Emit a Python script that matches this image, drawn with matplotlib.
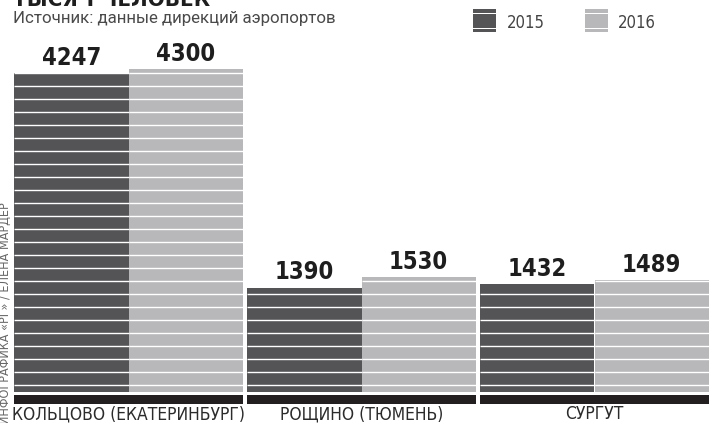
import matplotlib.pyplot as plt
from matplotlib.patches import Rectangle
import numpy as np

# passenger traffic, thousand people
airports = ["КОЛЬЦОВО (ЕКАТЕРИНБУРГ)", "РОЩИНО (ТЮМЕНЬ)", "СУРГУТ"]
years = ["2015", "2016"]
values_2015 = [4247, 1390, 1432]
values_2016 = [4300, 1530, 1489]

DARK = "#545456"
LIGHT = "#b8b8ba"
BLACK = "#231f20"
TEXT = "#2b2b2b"
COND = dict(family="DejaVu Sans", fontstretch="condensed")

W, H = 715, 423


def fx(px):
    return px / W


def fy(py):
    return 1 - py / H


fig = plt.figure(figsize=(W / 100, H / 100), dpi=100)
fig.patch.set_facecolor("white")

ax = fig.add_axes([0, fy(405), 1, 405 / H])
ax.axis("off")
ax.set_xlim(-128.5 / 233, (W - 128.5) / 233)
ax.set_ylim(-173, 5219)

x = np.arange(len(airports))
bw = 0.49
series = [(values_2015, -bw / 2, DARK), (values_2016, bw / 2, LIGHT)]

for vals, off, col in series:
    ax.bar(x + off, vals, bw, color=col, linewidth=0)

# black base strip under each airport
ax.bar(x, -120, 0.985, bottom=-40, color=BLACK, linewidth=0)

# white horizontal stripes across the bars + value labels
step, first = 173, 93
for vals, off, col in series:
    for xi, v in zip(x, vals):
        levels = np.arange(first, v, step)
        ax.hlines(levels, xi + off - bw / 2, xi + off + bw / 2,
                  color="white", linewidth=1.0)
        ax.annotate(f"{v}", (xi + off, v), xytext=(0, 6),
                    textcoords="offset points", ha="center", va="baseline",
                    fontsize=17, fontweight="bold", color="#1e1e1e", **COND)

for xi, name in zip(x, airports):
    ax.annotate(name, (xi, fy(419)), xycoords=("data", "figure fraction"),
                ha="center", va="baseline", fontsize=12.5, color=TEXT, **COND)

# title (cut off at the top) and source
fig.text(fx(13), fy(6), "ТЫСЯЧ ЧЕЛОВЕК", fontsize=16, fontweight="bold",
         color="#1e1e1e", va="baseline", **COND)
fig.text(fx(13), fy(23.5), "Источник: данные дирекций аэропортов",
         fontsize=12.2, family=["Roboto", "DejaVu Sans"], color="#4a4a4a",
         va="baseline")

# legend swatches
for year, col, sx, tx in [(years[0], DARK, 473, 507), (years[1], LIGHT, 585, 618)]:
    fig.add_artist(Rectangle((fx(sx), fy(32)), 23 / W, 23 / H,
                             transform=fig.transFigure, color=col, lw=0))
    for ly in (13.3, 28.5):
        fig.add_artist(Rectangle((fx(sx), fy(ly + 0.6)), 23 / W, 1.2 / H,
                                 transform=fig.transFigure, color="white", lw=0))
    fig.text(fx(tx), fy(28), year, fontsize=12, color="#444444",
             va="baseline", **COND)

# vertical credit
fig.text(fx(5), fy(424), "ИНФОГРАФИКА «РГ» / ЕЛЕНА МАРДЕР", rotation=90,
         fontsize=9, color="#666666", ha="center", va="bottom", **COND)

fig.savefig("out.png", dpi=100)
